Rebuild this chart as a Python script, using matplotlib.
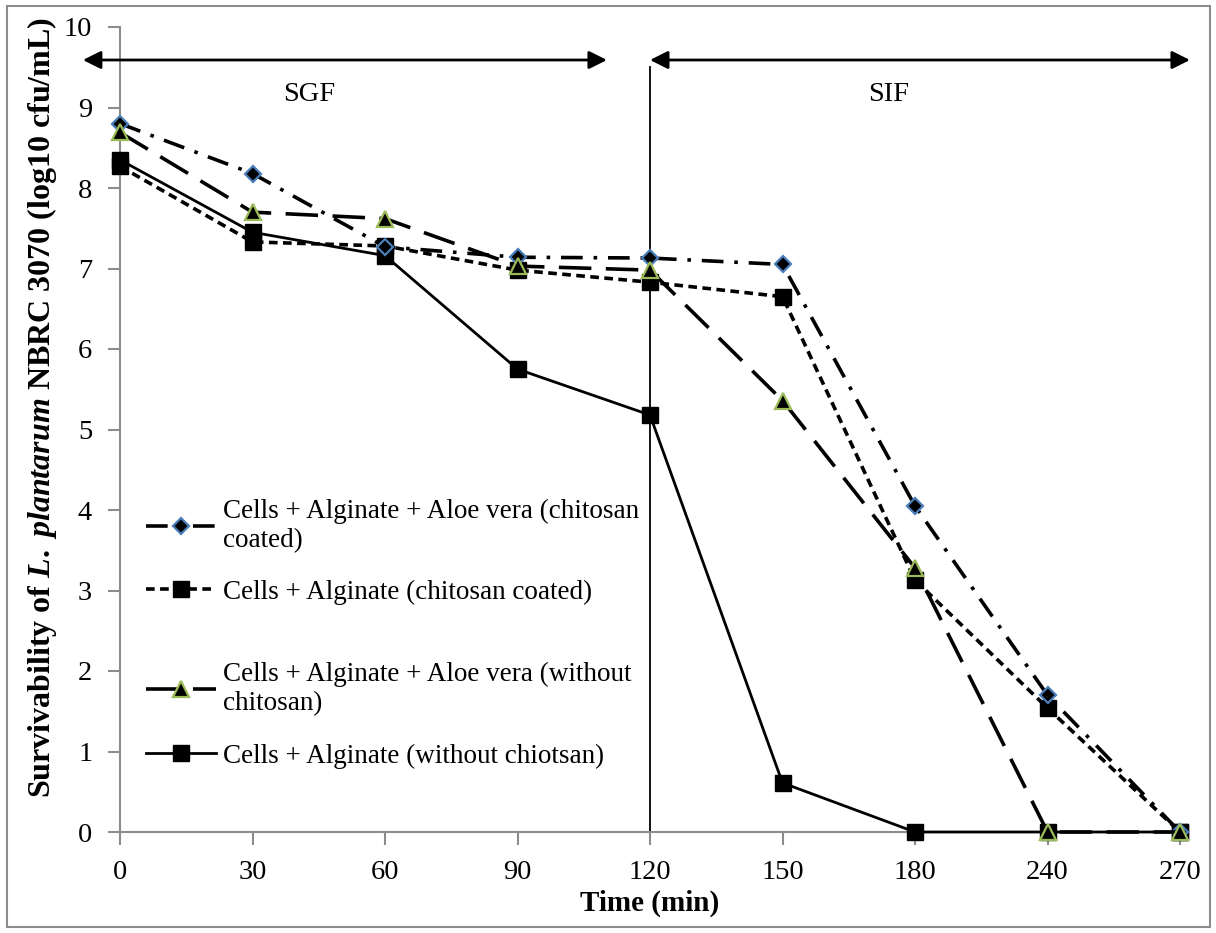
import matplotlib
matplotlib.use('Agg')
import matplotlib.pyplot as plt
from matplotlib.patches import Rectangle
from matplotlib.legend import Legend

plt.rcParams['font.family'] = ['Liberation Serif', 'DejaVu Serif']
plt.rcParams['mathtext.fontset'] = 'custom'
plt.rcParams['mathtext.rm'] = 'Liberation Serif:bold'
plt.rcParams['mathtext.bf'] = 'Liberation Serif:bold'
plt.rcParams['mathtext.it'] = 'Liberation Serif:italic:bold'
plt.rcParams['mathtext.bfit'] = 'Liberation Serif:italic:bold'

# data
times = ['0', '30', '60', '90', '120', '150', '180', '240', '270']
aloe_coated = [8.80, 8.18, 7.27, 7.14, 7.13, 7.05, 4.05, 1.70, 0.0]
alg_coated = [8.27, 7.33, 7.28, 6.98, 6.83, 6.65, 3.13, 1.54, 0.0]
aloe_plain = [8.69, 7.70, 7.62, 7.03, 6.98, 5.36, 3.28, 0.0, 0.0]
alg_plain = [8.35, 7.45, 7.16, 5.75, 5.18, 0.61, 0.0, 0.0, 0.0]

labels = ['Cells + Alginate + Aloe vera (chitosan\ncoated)',
          'Cells + Alginate (chitosan coated)',
          'Cells + Alginate + Aloe vera (without\nchitosan)',
          'Cells + Alginate (without chiotsan)']

W, H = 1216, 933
fig = plt.figure(figsize=(W / 100, H / 100), dpi=100)
ax = fig.add_axes([120 / W, 1 - 832 / H, 1060 / W, 805 / H])

x = list(range(len(times)))
gray = '#8c8c8c'

lines = []
lines += ax.plot(x, aloe_coated, color='black', lw=2.6, dashes=(6, 3, 1, 3),
                 marker='D', markersize=8, markerfacecolor='black',
                 markeredgecolor='#4a7ebb', markeredgewidth=1.6,
                 clip_on=False, zorder=5)
lines += ax.plot(x, alg_coated, color='black', lw=2.6, dashes=(2.4, 1.5),
                 marker='s', markersize=11, markerfacecolor='black',
                 markeredgecolor='black', clip_on=False, zorder=4)
lines += ax.plot(x, aloe_plain, color='black', lw=2.6, dashes=(9, 4),
                 marker='^', markersize=11, markerfacecolor='black',
                 markeredgecolor='#9bbb59', markeredgewidth=1.6,
                 clip_on=False, zorder=6)
lines += ax.plot(x, alg_plain, color='black', lw=2.0,
                 marker='s', markersize=11, markerfacecolor='black',
                 markeredgecolor='black', clip_on=False, zorder=3)

ax.set_xlim(0, 8)
ax.set_ylim(0, 10)
ax.set_xticks(x)
ax.set_xticklabels(times)
ax.set_yticks(range(0, 11))

for s in ['top', 'right']:
    ax.spines[s].set_visible(False)
for s in ['left', 'bottom']:
    ax.spines[s].set_color(gray)
    ax.spines[s].set_linewidth(1.5)
ax.tick_params(axis='both', colors=gray, labelcolor='black', labelsize=20.5,
               length=9, width=1.5, direction='out')
ax.tick_params(axis='y', pad=11)
ax.tick_params(axis='x', pad=11)

ax.set_xlabel('Time (min)', fontsize=21, fontweight='bold')
ax.xaxis.set_label_coords(0.5, -0.072)
ax.set_ylabel(r'Survivability of $\mathit{L.\ plantarum}$ NBRC 3070 (log10 cfu/mL)',
              fontsize=23, fontweight='bold')
ax.yaxis.set_label_coords(-0.058, 0.527)

# SGF / SIF phases
ax.plot([4, 4], [0, 9.5], color='black', lw=1.3, clip_on=False)
arrow = dict(arrowstyle='<|-|>', color='black', lw=2, mutation_scale=27,
             shrinkA=0, shrinkB=0)
ax.annotate('', xy=(-0.28, 9.59), xytext=(3.675, 9.59), arrowprops=arrow,
            annotation_clip=False)
ax.annotate('', xy=(4.0, 9.59), xytext=(8.075, 9.59), arrowprops=arrow,
            annotation_clip=False)
ax.text(1.43, 9.16, 'SGF', fontsize=20.5, ha='center', va='center')
ax.text(5.8, 9.16, 'SIF', fontsize=20.5, ha='center', va='center')

# one legend per entry so each sits at its own height, as in the original
leg_y = [0.380, 0.298, 0.178, 0.094]
for line, lab, yy in zip(lines, labels, leg_y):
    leg = Legend(ax, [line], [lab], loc='center left', bbox_to_anchor=(0.0245, yy),
                 frameon=False, fontsize=19.5, borderaxespad=0, borderpad=0,
                 handlelength=2.6, handletextpad=0.25, numpoints=1)
    ax.add_artist(leg)

fig.patches.append(Rectangle((7 / W, 6 / H), 1203 / W, 921 / H,
                             transform=fig.transFigure, fill=False,
                             edgecolor=gray, lw=1.5))

fig.savefig('out.png', dpi=100)
